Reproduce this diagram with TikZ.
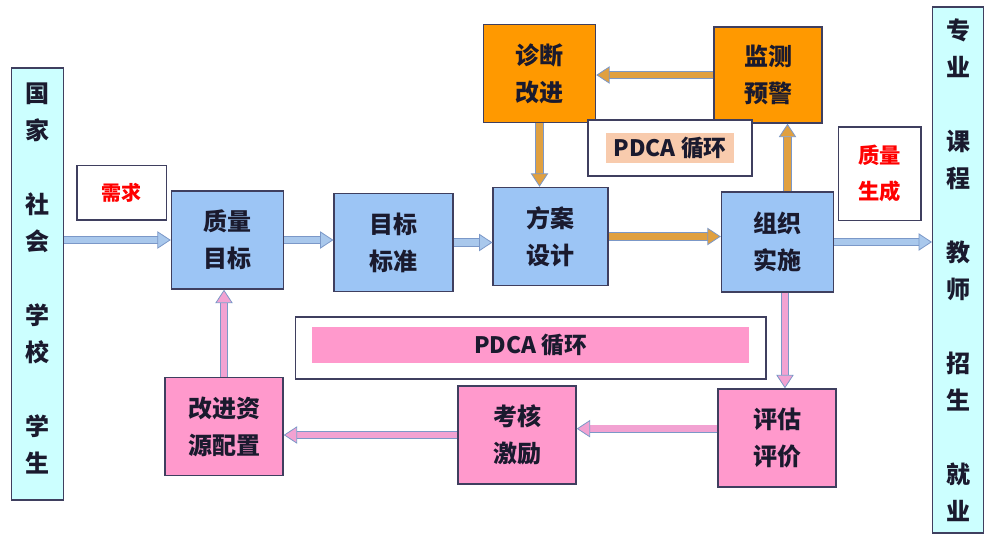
\documentclass[tikz,border=0pt]{standalone}
\usepackage{fontspec}
\setmainfont{Noto Sans CJK SC}
\usetikzlibrary{arrows.meta}
\definecolor{boxblue}{HTML}{9CC5F5}
\definecolor{boxorange}{HTML}{FF9900}
\definecolor{boxpink}{HTML}{FF99CC}
\definecolor{barcyan}{HTML}{CCFFFF}
\definecolor{boxline}{HTML}{3F3F5F}
\definecolor{txt}{HTML}{1A1A2E}
\definecolor{peach}{HTML}{F8CBAD}
\definecolor{bfill}{HTML}{A9C8EC}
\definecolor{bedge}{HTML}{7B98C8}
\definecolor{ofill}{HTML}{E0A040}
\definecolor{pfill}{HTML}{F2A2D2}
\tikzset{
  box/.style={draw=boxline, line width=1.1pt, minimum width=84pt, minimum height=73.5pt,
    align=center, text=txt, font=\bfseries\fontsize{18}{27.75}\selectfont},
  bluebox/.style={box, fill=boxblue},
  orangebox/.style={box, fill=boxorange},
  pinkbox/.style={box, fill=boxpink, minimum width=88.5pt},
  sidebar/.style={box, fill=barcyan, minimum width=39pt},
  lbl/.style={draw=boxline, line width=1pt, fill=white, align=center},
  redlbl/.style={lbl, text=red, font=\bfseries\fontsize{16}{27}\selectfont},
  pdca/.style={text=txt, font=\bfseries\fontsize{17}{18}\selectfont},
  arr/.style={draw=bedge, line width=0.6pt, double distance=5pt},
  barr/.style={arr, double=bfill, -{Triangle[length=10pt,width=13pt,fill=bfill]}},
  oarr/.style={arr, double=ofill, -{Triangle[length=10pt,width=13pt,fill=ofill]}},
  parr/.style={arr, double=pfill, -{Triangle[length=10pt,width=13pt,fill=pfill]}}
}
\begin{document}
\begin{tikzpicture}[x=0.75pt, y=-0.75pt]
\useasboundingbox (0,0) rectangle (984,539);
\node[sidebar, minimum height=324pt] (society) at (37.5,284)
  {国\\家\\\mbox{}\\社\\会\\\mbox{}\\学\\校\\\mbox{}\\学\\生\\[-18pt]\mbox{}};
\node[sidebar, minimum height=394.5pt, minimum width=38pt] (outcome) at (958,270)
  {专\\业\\\mbox{}\\课\\程\\\mbox{}\\教\\师\\\mbox{}\\招\\生\\\mbox{}\\就\\业};
\node[redlbl, minimum width=67pt, minimum height=41pt, font=\bfseries\fontsize{15}{18}\selectfont] (need) at (121.5,192.5) {需求};
\node[redlbl, minimum width=62pt, minimum height=70pt] (generate) at (879.5,173.5) {质量\\生成};

\node[bluebox] (goal) at (227.5,240) {质量\\目标};
\node[bluebox, minimum width=89pt] (standard) at (393.5,242.5) {目标\\标准};
\node[bluebox, minimum width=86pt] (design) at (550.5,236.5) {方案\\设计};
\node[bluebox, minimum height=75pt] (implement) at (777.5,242) {组织\\实施};
\node[orangebox] (diagnose) at (539.5,73.5) {诊断\\改进};
\node[orangebox, minimum width=81pt, minimum height=72pt] (monitor) at (768,75) {监测\\预警};
\node[pinkbox] (evaluate) at (777,438) {评估\\评价};
\node[pinkbox] (reward) at (517,435) {考核\\激励};
\node[pinkbox] (resource) at (224,426.5) {改进资\\源配置};

\node[lbl, minimum width=123pt, minimum height=42pt] (cycletop) at (670,148) {};
\node[pdca, fill=peach, minimum width=96pt, minimum height=23pt] at (cycletop) {PDCA 循环};
\node[lbl, minimum width=353pt, minimum height=46.5pt] (cyclebot) at (530.5,348) {};
\node[pdca, fill=boxpink, minimum width=328pt, minimum height=27pt] at (530.5,345) {PDCA 循环};

\draw[barr] (society.east |- goal.west) -- (goal.west);
\draw[barr] (goal.east) -- (goal.east -| standard.west);
\draw[barr] (standard.east) -- (standard.east -| design.west);
\draw[oarr] (design.east) -- (design.east -| implement.west);
\draw[barr] (implement.east) -- (implement.east -| outcome.west);
\draw[oarr] ([xshift=7.5pt]implement.north) -- ([xshift=7.5pt]implement.north |- monitor.south);
\draw[oarr] (monitor.west) -- (monitor.west -| diagnose.east);
\draw[oarr] (diagnose.south) -- (diagnose.south |- design.north);
\draw[parr] ([xshift=5.6pt]implement.south) -- ([xshift=5.6pt]implement.south |- evaluate.north);
\draw[parr] ([yshift=7pt]evaluate.west) -- ([yshift=7pt]evaluate.west -| reward.east);
\draw[parr] (reward.west) -- (reward.west -| resource.east);
\draw[parr] (resource.north) -- (resource.north |- goal.south);
\end{tikzpicture}
\end{document}
